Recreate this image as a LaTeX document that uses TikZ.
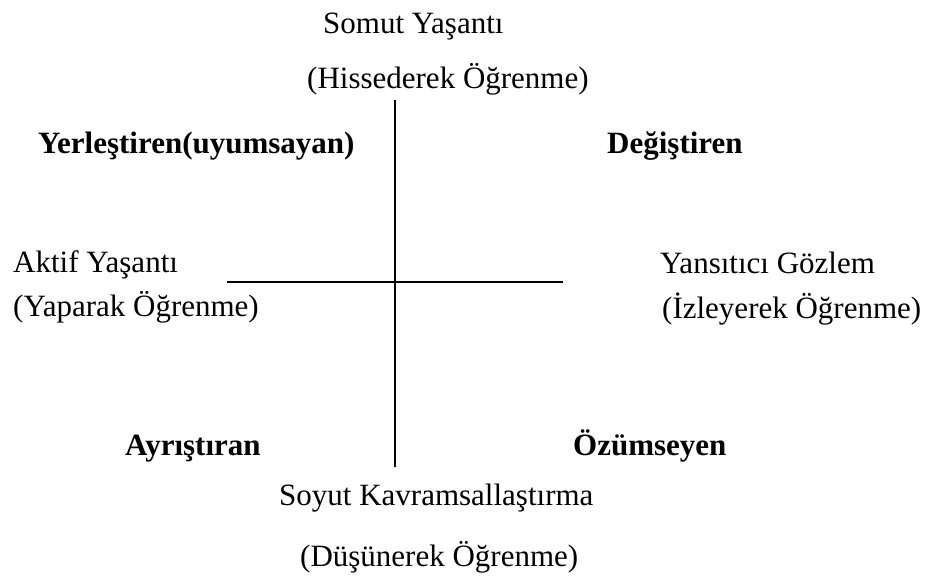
\documentclass[tikz,border=0pt]{standalone}
\usepackage{fontspec}
\setmainfont{Liberation Serif}
\begin{document}
\begin{tikzpicture}[x=1pt,y=-1pt,
  reg/.style={inner sep=0pt, anchor=base west, font=\fontsize{31}{31}\selectfont},
  bld/.style={inner sep=0pt, anchor=base west, font=\fontsize{31}{31}\selectfont\bfseries},
  axis/.style={line width=1.4pt, black}]
\useasboundingbox (0,0) rectangle (938,581);
\node[reg] (somut) at (323,33) {Somut Yaşantı};
\node[reg] (hiss) at (307,88) {(Hissederek Öğrenme)};
\node[bld] (yer) at (38,153) {Yerleştiren(uyumsayan)};
\node[bld] (deg) at (607,153) {Değiştiren};
\node[reg] (aktif) at (13,272) {Aktif Yaşantı};
\node[reg] (yap) at (13,316) {(Yaparak Öğrenme)};
\node[reg] (yans) at (660,273) {Yansıtıcı Gözlem};
\node[reg] (izl) at (662,318) {(İzleyerek Öğrenme)};
\node[bld] (ayr) at (125,455) {Ayrıştıran};
\node[bld] (ozu) at (573,455) {Özümseyen};
\node[reg] (soyut) at (279,505) {Soyut Kavramsallaştırma};
\node[reg] (dus) at (300,566) {(Düşünerek Öğrenme)};
\coordinate (vt) at (395,100);
\coordinate (vb) at (395,467);
\coordinate (hl) at (227,282);
\coordinate (hr) at (563,282);
\draw[axis] (vt) -- (vb);
\draw[axis] (hl) -- (hr);
\end{tikzpicture}
\end{document}
